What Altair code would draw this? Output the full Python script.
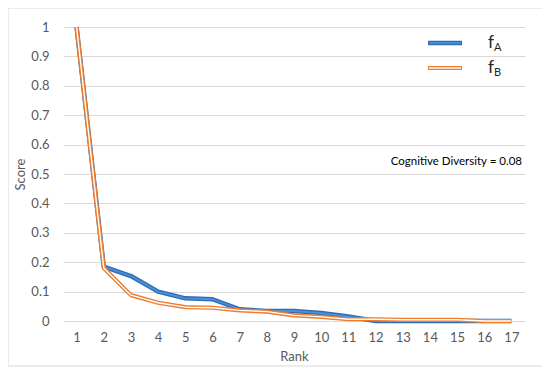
import altair as alt
import pandas as pd

ranks = list(range(1, 18))
f_a = [1.0, 0.185, 0.153, 0.100, 0.077, 0.074, 0.040, 0.034, 0.034, 0.027, 0.015, 0.0, 0.0, 0.0, 0.0, 0.0, 0.0]
f_b = [1.0, 0.180, 0.088, 0.062, 0.047, 0.045, 0.036, 0.032, 0.019, 0.014, 0.006, 0.006, 0.004, 0.004, 0.004, 0.0, 0.0]
y_ticks = [0, 0.1, 0.2, 0.3, 0.4, 0.5, 0.6, 0.7, 0.8, 0.9, 1]
annotation = "Cognitive Diversity = 0.08"

FONT = "Lato"
W, H = 462, 294

df = pd.DataFrame({"Rank": ranks, "fA": f_a, "fB": f_b})

x_enc = alt.X("Rank:O", title="Rank",
              scale=alt.Scale(type="point", padding=0.5),
              axis=alt.Axis(labelAngle=0, ticks=False, domain=False, grid=False,
                            labelPadding=10, titlePadding=6))
y_axis = alt.Axis(values=y_ticks, format=".1~f", ticks=False, domain=False, grid=True,
                  gridColor="#D9D9D9", labelPadding=14, titlePadding=3, labelOverlap=False)
y_scale = alt.Scale(domain=[0, 1])

def y_enc(field):
    return alt.Y(f"{field}:Q", title="Score", scale=y_scale, axis=y_axis)

base = alt.Chart(df)

border = alt.Chart(pd.DataFrame({"a": [0]})).mark_rect(
    fillOpacity=0, stroke="#D9D9D9", strokeWidth=1
).encode(x=alt.value(-55), x2=alt.value(W + 21), y=alt.value(-19), y2=alt.value(H + 45))

blue_outer = base.mark_line(color="#2F6DB5", strokeWidth=4.5, strokeJoin="round").encode(
    x=x_enc, y=y_enc("fA"))
blue_inner = base.mark_line(color="#4A8FD9", strokeWidth=1.8, strokeJoin="round").encode(
    x=x_enc, y=y_enc("fA"))
orange_outer = base.mark_line(color="#ED7D31", strokeWidth=4.2, strokeJoin="round").encode(
    x=x_enc, y=y_enc("fB"))
orange_inner = base.mark_line(color="white", strokeWidth=1.4, strokeJoin="round").encode(
    x=x_enc, y=y_enc("fB"))

one = pd.DataFrame({"a": [0]})
leg_a = alt.Chart(one).mark_rule(color="#2F6DB5", strokeWidth=4.5).encode(
    x=alt.value(365), x2=alt.value(399), y=alt.value(16))
leg_a2 = alt.Chart(one).mark_rule(color="#4A8FD9", strokeWidth=1.8).encode(
    x=alt.value(366), x2=alt.value(398), y=alt.value(16))
leg_b = alt.Chart(one).mark_rule(color="#ED7D31", strokeWidth=4.2).encode(
    x=alt.value(365), x2=alt.value(399), y=alt.value(41))
leg_b2 = alt.Chart(one).mark_rule(color="white", strokeWidth=1.4).encode(
    x=alt.value(366), x2=alt.value(398), y=alt.value(41))

def txt(s, x, y, size, color="#262626", align="left"):
    return alt.Chart(pd.DataFrame({"t": [s]})).mark_text(
        font=FONT, fontSize=size, color=color, align=align, baseline="alphabetic"
    ).encode(text="t:N", x=alt.value(x), y=alt.value(y))

leg_fa = txt("f", 425, 21, 17)
leg_fa_sub = txt("A", 431, 24, 11)
leg_fb = txt("f", 425, 46, 17)
leg_fb_sub = txt("B", 431, 49, 11)
note = txt(annotation, 522 - 63, 138, 11.5, color="black", align="right")

chart = alt.layer(
    border, blue_outer, blue_inner, orange_outer, orange_inner,
    leg_a, leg_a2, leg_b, leg_b2, leg_fa, leg_fa_sub, leg_fb, leg_fb_sub, note
).properties(
    width=W, height=H,
    autosize=alt.AutoSizeParams(type="none"),
    padding={"left": 55, "top": 19, "right": 17, "bottom": 48},
    background="white",
).configure_axis(
    labelFont=FONT, titleFont=FONT, labelFontSize=13, titleFontSize=13,
    labelColor="#595959", titleColor="#595959", titleFontWeight="normal",
).configure_view(stroke=None)

chart.save("out.html", embed_options={"renderer": "svg", "actions": False})
